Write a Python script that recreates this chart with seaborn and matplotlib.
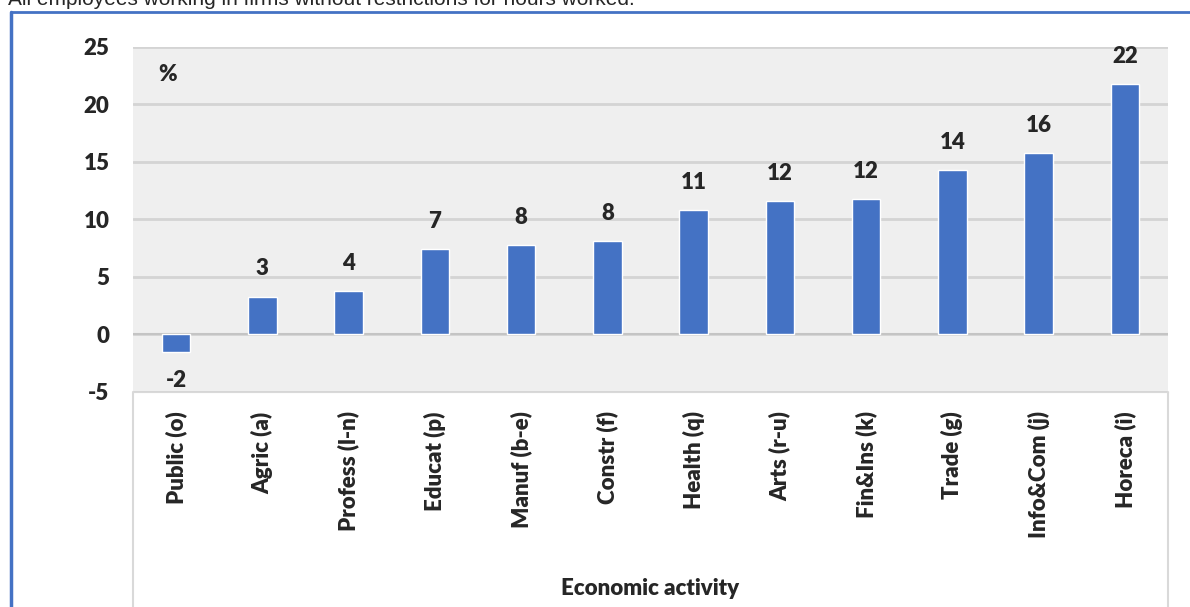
import matplotlib.pyplot as plt
import seaborn as sns
from matplotlib.lines import Line2D

# Data
activities = ['Public (o)', 'Agric (a)', 'Profess (l-n)', 'Educat (p)', 'Manuf (b-e)', 'Constr (f)',
              'Health (q)', 'Arts (r-u)', 'Fin&Ins (k)', 'Trade (g)', 'Info&Com (j)', 'Horeca (i)']
change = [-1.5, 3.3, 3.8, 7.4, 7.8, 8.1, 10.8, 11.6, 11.8, 14.3, 15.8, 21.8]
bar_labels = ['-2', '3', '4', '7', '8', '8', '11', '12', '12', '14', '16', '22']
y_ticks = [-5, 0, 5, 10, 15, 20, 25]

sns.set_style("white")
plt.rcParams['font.family'] = ['Lato', 'DejaVu Sans']
plt.rcParams['axes.unicode_minus'] = False
WEIGHT = 'heavy'

fig = plt.figure(figsize=(11.9, 6.07), dpi=100)
ax = fig.add_axes([133 / 1190, 1 - 392 / 607, (1168 - 133) / 1190, (392 - 47) / 607])

sns.barplot(x=activities, y=change, color='#4472c4', width=0.33, saturation=1, ax=ax, zorder=3)

ax.set_facecolor('#efefef')
ax.set_ylim(-5, 25)
ax.set_yticks(y_ticks)
ax.set_xlim(-0.5, len(activities) - 0.5)
ax.yaxis.grid(True, color='#d4d4d4', linewidth=2)
ax.set_axisbelow(True)
for s in ['top', 'right', 'left']:
    ax.spines[s].set_visible(False)
ax.spines['bottom'].set_color('#d9d9d9')
ax.axhline(0, color='#c4c4c4', linewidth=1.5, zorder=2)

ax.tick_params(axis='both', length=0)
ax.tick_params(axis='y', pad=17, labelsize=16)
ax.tick_params(axis='x', pad=14, labelsize=16, rotation=90)
for lab in ax.get_yticklabels() + ax.get_xticklabels():
    lab.set_fontweight(WEIGHT)

# value labels
for i, (v, t) in enumerate(zip(change, bar_labels)):
    off = 20 if v >= 0 else -21
    ax.annotate(t, (i, v), xytext=(0, off), textcoords='offset points',
                ha='center', va='center', fontsize=16, fontweight=WEIGHT)

ax.text(0.024, 0.92, '%', transform=ax.transAxes, fontsize=16, fontweight=WEIGHT,
        ha='left', va='center')

ax.set_xlabel('Economic activity', fontsize=16, fontweight=WEIGHT, labelpad=0)
ax.xaxis.set_label_coords(0.5, -0.54)

# frame around the category labels
for xp in [133, 1168]:
    fig.add_artist(Line2D([xp / 1190, xp / 1190], [0, 1 - 392 / 607], color='#d9d9d9', lw=1.5))

# blue chart border (top and left)
fig.add_artist(Line2D([11 / 1190, 1], [1 - 12 / 607, 1 - 12 / 607], color='#4472c4', lw=2))
fig.add_artist(Line2D([11 / 1190, 11 / 1190], [0, 1 - 12 / 607], color='#4472c4', lw=2.5))

# title partly cut off at the top, as in the source
fig.text(8 / 1190, 1 - 5 / 607, 'All employees working in firms without restrictions for hours worked.',
         family=['Liberation Sans', 'DejaVu Sans'], fontsize=15, va='baseline', ha='left')

fig.savefig('out.png', dpi=100)
